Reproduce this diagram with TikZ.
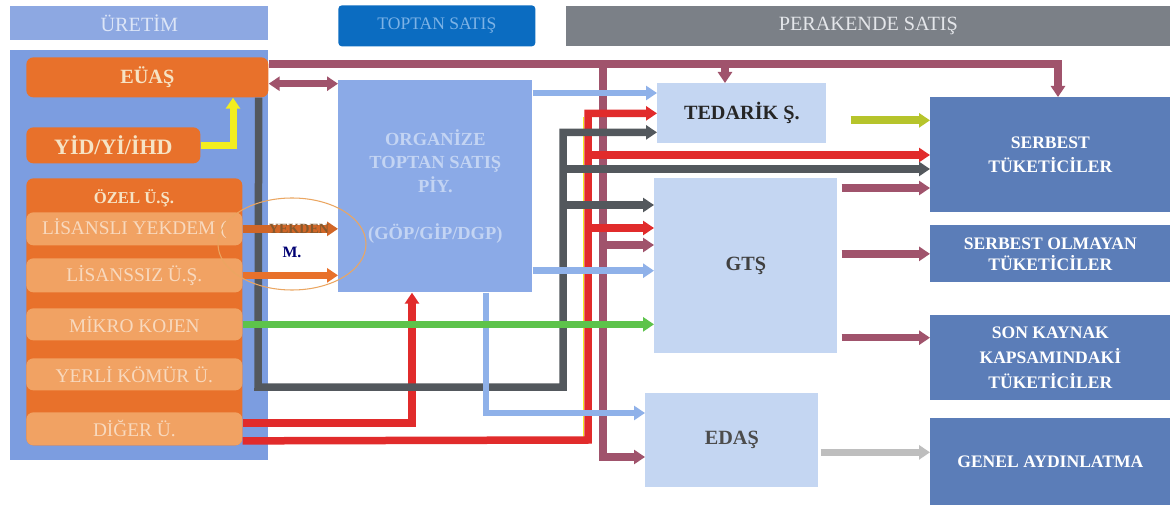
\documentclass[tikz,border=0pt]{standalone}
\usepackage{fontspec}
\setmainfont{Liberation Serif}
\usetikzlibrary{positioning, calc, shapes.geometric, arrows.meta}
\definecolor{ureHead}{HTML}{8DA8E2}
\definecolor{ureText}{HTML}{DCE5F7}
\definecolor{topHead}{HTML}{0B6CC1}
\definecolor{topText}{HTML}{7DB3E6}
\definecolor{perHead}{HTML}{7B8087}
\definecolor{perText}{HTML}{E4E6EA}
\definecolor{panelBlue}{HTML}{7C9DE0}
\definecolor{orMain}{HTML}{E8712B}
\definecolor{orLight}{HTML}{F1A263}
\definecolor{orText}{HTML}{F6E3C4}
\definecolor{orSub}{HTML}{F8D9BE}
\definecolor{orgBlue}{HTML}{8BAAE7}
\definecolor{orgText}{HTML}{C3D4F3}
\definecolor{retLight}{HTML}{C4D6F2}
\definecolor{consBlue}{HTML}{5B7DB8}
\definecolor{lnMaroon}{HTML}{A0536C}
\definecolor{lnRed}{HTML}{E12B2B}
\definecolor{lnDark}{HTML}{53585D}
\definecolor{lnLight}{HTML}{8FB1E9}
\definecolor{lnGreen}{HTML}{5DC34B}
\definecolor{lnLime}{HTML}{B6C42B}
\definecolor{lnYellow}{HTML}{F3EE1F}
\definecolor{lnGray}{HTML}{BEBEBE}

\begin{document}
\begin{tikzpicture}[
    x=0.2mm, y=-0.2mm,
    box/.style={rectangle, anchor=north west, inner sep=0pt, align=center},
    head/.style={box, font=\fontsize{11.5}{13}\selectfont},
    orbox/.style={box, fill=orMain, rounded corners=4pt, text=orText,
                  font=\bfseries\fontsize{11.5}{13}\selectfont},
    subbox/.style={box, fill=orLight, rounded corners=4pt, text=orSub,
                   minimum width=43.2mm, font=\fontsize{11}{13}\selectfont},
    retail/.style={box, fill=retLight, text=black!85,
                   font=\bfseries\fontsize{11.5}{13}\selectfont},
    cons/.style={box, fill=consBlue, text=white, minimum width=48mm,
                 font=\bfseries\fontsize{10}{14}\selectfont},
    flow/.style={line width=1.5mm, -{Triangle[width=2.8mm,length=2.2mm]}},
    band/.style={line width=1.5mm},
  ]
    \useasboundingbox[fill=white] (0,0) rectangle (1176,509);

    % column headers
    \node[head, fill=ureHead, text=ureText, minimum width=51.6mm, minimum height=6.8mm]
      (hUre) at (10,6) {ÜRETİM};
    \node[head, fill=topHead, text=topText, rounded corners=2pt, minimum width=39.4mm,
          minimum height=8.2mm, font=\fontsize{10}{11}\selectfont]
      (hTop) at (338,5) {TOPTAN SATIŞ};
    \node[head, fill=perHead, text=perText, minimum width=120.8mm, minimum height=8mm]
      (hPer) at (566,6) {PERAKENDE SATIŞ};

    % generation side
    \node[box, fill=panelBlue, minimum width=51.6mm, minimum height=82mm] (panel) at (10,50) {};
    \node[orbox, minimum width=48.4mm, minimum height=8mm] (euas) at (26,57) {EÜAŞ};
    \node[orbox, minimum width=34.8mm, minimum height=7.2mm,
          font=\bfseries\fontsize{12.5}{14}\selectfont] (yid) at (26,127) {YİD/Yİ/İHD};
    \node[orbox, minimum width=43.2mm, minimum height=53.4mm] (ozel) at (26,178) {};
    \node[text=orText, font=\bfseries\fontsize{9.5}{11}\selectfont] (ozelT) at (134,198) {ÖZEL Ü.Ş.};
    \node[subbox, minimum height=6.6mm] (lis) at (26,212) {LİSANSLI YEKDEM (};
    \node[subbox, minimum height=6.8mm] (lisz) at (26,258) {LİSANSSIZ Ü.Ş.};
    \node[subbox, minimum height=6.4mm] (mik) at (26,308) {MİKRO KOJEN};
    \node[subbox, minimum height=6.4mm] (yer) at (26,358) {YERLİ KÖMÜR Ü.};
    \node[subbox, minimum height=6.6mm] (dig) at (26,412) {DİĞER Ü.};

    % wholesale market
    \node[box, fill=orgBlue, text=orgText, minimum width=38.8mm, minimum height=42.4mm,
          font=\bfseries\fontsize{10.5}{13.3}\selectfont]
      (org) at (338,80) {ORGANİZE\\TOPTAN SATIŞ\\PİY.\\[13.3pt](GÖP/GİP/DGP)};

    % retail side
    \node[retail, minimum width=33.8mm, minimum height=12mm] (ted) at (657,83) {TEDARİK Ş.};
    \node[retail, minimum width=36.6mm, minimum height=35mm, text=black!75] (gts) at (654,178) {GTŞ};
    \node[retail, minimum width=34.6mm, minimum height=18.8mm, text=black!70] (edas) at (645,393) {EDAŞ};

    \node[cons, minimum height=23mm] (serb) at (930,97) {SERBEST\\TÜKETİCİLER};
    \node[cons, minimum height=11.4mm, font=\bfseries\fontsize{10}{12}\selectfont]
      (solm) at (930,225) {SERBEST OLMAYAN\\TÜKETİCİLER};
    \node[cons, minimum height=17mm] (sonk) at (930,315) {SON KAYNAK\\KAPSAMINDAKİ\\TÜKETİCİLER};
    \node[cons, minimum height=17.4mm] (gen) at (930,418) {GENEL AYDINLATMA};

    % junctions
    \coordinate (mj1) at (603,64);
    \coordinate (mj2) at (725,64);
    \coordinate (mj3) at (1058,64);
    \coordinate (mj4) at (603,457);
    \coordinate (mj5) at (603,245);
    \coordinate (mE) at ($(euas.south east)+(0,-14)$);
    \coordinate (yup) at (233,0);
    \coordinate (dgA) at (258,387);
    \coordinate (dgB) at (563,387);
    \coordinate (dgS) at (563,169);
    \coordinate (dgG) at (563,205);
    \coordinate (rdA) at (588,440);
    \coordinate (rdT) at (588,113);
    \coordinate (rdS) at (588,155);
    \coordinate (rdG) at (588,228);
    \coordinate (rdO) at (412,0);
    \coordinate (rdL) at ($(dig.east)+(0,12)$);
    \coordinate (rdU) at ($(dig.east)+(0,-6)$);
    \coordinate (lbA) at (486,413);
    \coordinate (lbT) at ($(org.north east)+(0,13)$);
    \coordinate (lbG) at ($(org.south east)+(0,-22)$);
    \coordinate (tdO) at ($(ted.east)+(24,7)$);
    \coordinate (gsS) at ($(gts.north east)+(4,10)$);
    \coordinate (gsO) at ($(gts.east)+(4,-12)$);
    \coordinate (gsK) at ($(gts.south east)+(4,-16)$);
    \coordinate (edO) at ($(edas.east)+(2,12)$);

    % maroon (EÜAŞ)
    \draw[flow, lnMaroon] ($(euas.north east)+(0,7)$) -- (mj3) -- (mj3 |- serb.north);
    \draw[flow, lnMaroon] (mj2) -- (mj2 |- ted.north);
    \draw[flow, lnMaroon] (mj1) -- (mj4) -- (mj4 -| edas.west);
    \draw[flow, lnMaroon] (mj5) -- (mj5 -| gts.west);
    \draw[band, lnMaroon, {Triangle[width=2.8mm,length=2.2mm]}-{Triangle[width=2.8mm,length=2.2mm]}]
      (mE) -- (mE -| org.west);

    % yellow
    \draw[flow, lnYellow, line width=1.4mm] (yid.east) -| (yup |- euas.south);

    % red
    \draw[lnYellow, line width=0.5pt] ($(rdA)+(-5,-3)$) -- ($(rdT)+(-5,4)$);
    \draw[flow, lnRed] (rdL) -- (rdA) |- (ted.west);
    \draw[flow, lnRed] (rdS) -- (rdS -| serb.west);
    \draw[flow, lnRed] (rdG) -- (rdG -| gts.west);
    \draw[flow, lnRed] (rdU) -| (rdO |- org.south);

    % dark gray
    \draw[flow, lnDark] ($(euas.south east)+(-10,0)$) -- (dgA) -- (dgB) |- ($(ted.west)+(0,19)$);
    \draw[flow, lnDark] (dgS) -- (dgS -| serb.west);
    \draw[flow, lnDark] (dgG) -- (dgG -| gts.west);

    % light blue
    \draw[flow, lnLight, line width=1.3mm] (lbT) -- (lbT -| ted.west);
    \draw[flow, lnLight, line width=1.3mm] (lbG) -- (lbG -| gts.west);
    \draw[flow, lnLight, line width=1.3mm] (lbA |- org.south) -- (lbA) -- (lbA -| edas.west);

    % orange
    \draw[flow, orMain!90!black] (lis.east) -- (lis.east -| org.west);
    \draw[flow, orMain] (lisz.east) -- (lisz.east -| org.west);
    \node[text=brown!70!black, font=\bfseries\fontsize{8}{9}\selectfont] (yekT) at (299,229) {YEKDEN};
    \node[text=blue!45!black, font=\bfseries\fontsize{9}{10}\selectfont] (yekM) at (292,252) {M.};
    \node[ellipse, draw=brown!45!orange!70, line width=0.6pt, minimum width=29.6mm,
          minimum height=18.4mm] (yekEll) at (292,244) {};

    % green
    \draw[flow, lnGreen] (mik.east) -- (mik.east -| gts.west);

    % retail outputs
    \draw[flow, lnLime, line width=1.6mm] (tdO) -- (tdO -| serb.west);
    \draw[flow, lnMaroon] (gsS) -- (gsS -| serb.west);
    \draw[flow, lnMaroon] (gsO) -- (gsO -| solm.west);
    \draw[flow, lnMaroon] (gsK) -- (gsK -| sonk.west);
    \draw[flow, lnGray] (edO) -- (edO -| gen.west);
  \end{tikzpicture}
\end{document}
